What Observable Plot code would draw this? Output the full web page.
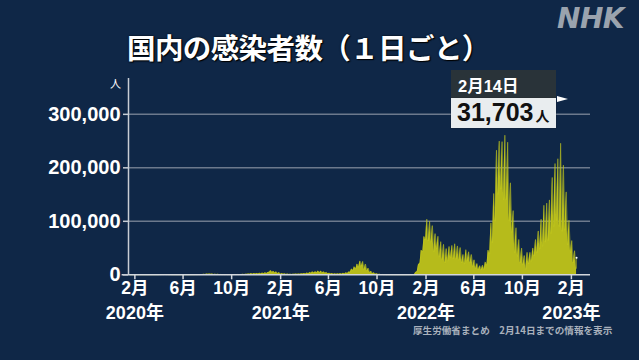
<!DOCTYPE html>
<html><head><meta charset="utf-8">
<script src="https://cdn.jsdelivr.net/npm/d3@7"></script>
<script src="https://cdn.jsdelivr.net/npm/@observablehq/plot@0.6"></script>
<style>
html,body{margin:0;padding:0;background:#0f2747;}
#wrap{position:relative;width:639px;height:360px;overflow:hidden;background:#0f2747;font-family:"Noto Sans CJK JP",sans-serif;}
#wrap svg{position:absolute;left:0;top:0;}
.t{position:absolute;white-space:nowrap;}
</style></head>
<body><div id="wrap"></div>
<script>
// ---- data ----
const startMonday = "2020-01-20";           // first week (Monday)
// weekly high (around Thursday) values
const weekHigh = [
 2,5,5,10,20,25,30,50,50,100,250,500,600,450,250,120,80,40,40,50,50,50,100,250,400,600,900,1300,1600,1300,1100,900,700,600,600,500,600,600,700,700,800,1100,1700,2400,2600,2600,3000,3200,3800,4500,
 7900,6600,5600,4100,2600,1900,1500,1200,1200,1300,1500,2000,2600,3400,4500,5500,5900,7200,7000,5700,4500,3000,2300,1800,1800,2200,2800,3600,5400,10700,15000,20000,25900,25000,20000,12400,6800,4000,2100,1100,700,400,300,250,200,180,150,150,150,200,300,500,
 4500,18800,46000,71600,104000,100000,92000,77000,72000,62000,57000,49000,53000,55000,58000,54000,51000,38000,47000,43000,38000,28000,21000,17000,18000,24000,46000,97000,152000,233000,250000,249000,261000,248000,172000,120000,88000,66000,50000,36000,42000,42000,50000,66000,82000,104000,130000,134000,140000,182000,208000,217000,
 246000,205000,155000,102000,64000,45000
];
// weekly low (Monday) values
const weekLow = [
 0,2,2,5,10,15,20,30,35,40,90,250,350,300,150,80,40,20,20,30,30,30,50,120,200,300,500,600,900,800,600,450,350,300,300,300,300,300,350,350,400,500,800,1200,1200,1400,1500,1700,1900,2400,
 4900,4200,3300,2000,1200,1000,700,700,700,800,800,1100,1300,1600,2100,2800,3300,4000,3700,3400,2700,1800,1300,900,900,1000,1200,1500,2300,4700,8000,11000,14000,16000,10000,7000,3700,2000,1100,600,350,230,150,100,100,80,70,70,70,100,150,200,
 400,6400,22000,43000,65000,63000,61000,43000,48000,33000,28000,22000,25000,31000,30000,29000,27000,22000,20000,26000,22000,15000,11000,9000,9000,10000,18000,40000,60000,100000,150000,160000,140000,140000,100000,79000,41000,34000,22000,19000,10000,20000,25000,35000,41000,48000,53000,61000,64000,77000,90000,101000,
 90000,81000,83000,56000,41000,22000
];
const lastMonday = {date: "2023-02-13", value: 11500};
const lastPoint = {date: "2023-02-14", value: 31703};

const yTicks = [0, 100000, 200000, 300000];
const yLabels = ["0", "100,000", "200,000", "300,000"];
const monthTicks = ["2020-02-01","2020-06-01","2020-10-01","2021-02-01","2021-06-01","2021-10-01","2022-02-01","2022-06-01","2022-10-01","2023-02-01"];
const monthLabels = ["2月","6月","10月","2月","6月","10月","2月","6月","10月","2月"];
const yearTicks = ["2020-02-01","2021-02-01","2022-02-01","2023-02-01"];
const yearLabels = ["2020年","2021年","2022年","2023年"];

const title = "国内の感染者数（１日ごと）";
const note = "厚生労働省まとめ　2月14日までの情報を表示";
const annoDate = "2月14日";
const annoValue = "31,703";

// ---- build table ----
const day = 86400000;
const t0 = new Date(startMonday + "T00:00:00Z").getTime();
const series = [];
for (let w = 0; w < weekHigh.length; w++) {
  series.push({date: new Date(t0 + w*7*day), value: weekLow[w]});
  series.push({date: new Date(t0 + (w*7+3)*day), value: weekHigh[w]});
}
series.push({date: new Date(lastMonday.date+"T00:00:00Z"), value: lastMonday.value});
series.push({date: new Date(lastPoint.date+"T00:00:00Z"), value: lastPoint.value});
const D = s => new Date(s + "T00:00:00Z");
const mLab = new Map(monthTicks.map((d,i)=>[D(d).getTime(), monthLabels[i]]));
const yrLab = new Map(yearTicks.map((d,i)=>[D(d).getTime(), yearLabels[i]]));
const yLab = new Map(yTicks.map((v,i)=>[v, yLabels[i]]));

const numFont = '"Liberation Sans","Noto Sans CJK JP",sans-serif';

const chart = Plot.plot({
  width: 639, height: 360,
  marginLeft: 128, marginRight: 49, marginTop: 78, marginBottom: 85.7,
  style: {background: "transparent", color: "white", fontFamily: numFont},
  x: {type: "utc", domain: [D("2020-01-16"), D("2023-03-21")], label: null},
  y: {domain: [0, 367000], label: null},
  marks: [
    Plot.gridY(yTicks.filter(v => v > 0), {stroke: "#8c96a4", strokeOpacity: 0.75, strokeWidth: 1.5}),
    Plot.areaY(series, {x: "date", y: "value", fill: "#b6bb1b", curve: "linear"}),
    Plot.lineY(series, {x: "date", y: "value", stroke: "#c3c81f", strokeWidth: 0.5, curve: "linear"}),
    Plot.dot([lastPoint], {x: d => D(d.date), y: "value", r: 1, fill: "white"}),
    Plot.ruleY([0], {x1: D("2019-12-31"), x2: D("2023-03-21"), stroke: "#d3d7dd", strokeWidth: 1.5}),
    Plot.ruleX([D("2020-01-16")], {y1: 0, y2: 367000, stroke: "#c8cdd4", strokeWidth: 1.5}),
    Plot.axisY(yTicks, {label: null, tickSize: 5, tickPadding: 3, tickFormat: v => yLab.get(v), fontSize: 20, fontWeight: "bold", fill: "white", stroke: "#c8cdd4", strokeWidth: 1.5, letterSpacing: 0.3}),
    Plot.axisX(monthTicks.map(D), {label: null, tickSize: 5, tickPadding: 2, tickFormat: d => mLab.get(d.getTime()), fontSize: 17.5, fontWeight: "bold", fill: "white", stroke: "#d3d7dd", strokeWidth: 1.5}),
    Plot.axisX(yearTicks.map(D), {label: null, tickSize: 0, tickPadding: 31, tickFormat: d => yrLab.get(d.getTime()), fontSize: 18, fontWeight: "bold", fill: "white"})
  ]
});
const wrap = document.getElementById("wrap");
wrap.appendChild(chart);

function add(html, css) {
  const el = document.createElement("div");
  el.className = "t"; el.innerHTML = html; el.style.cssText += css; wrap.appendChild(el);
  return el;
}
add(title, "left:127px;top:26px;font-size:28.5px;font-weight:bold;color:white;text-shadow:0 0 2px #000,1px 1px 1px #000;letter-spacing:-0.6px;");
add("NHK", 'left:557px;top:2px;font-family:"DejaVu Sans";font-size:28px;font-weight:bold;font-style:italic;color:#9aa3ae;letter-spacing:-0.5px;');
add("人", "left:110px;top:75px;font-size:11px;color:white;");
add(note, "left:413px;top:323px;font-size:9.6px;font-weight:bold;color:#a9b1bc;");
// annotation box
add("", "left:451px;top:70px;width:105px;height:28px;background:#293339;");
add("", "left:451px;top:98px;width:105px;height:30px;background:#e9edef;box-shadow:0 0 1px #222;");
add(annoDate, 'left:458px;top:73px;font-size:16.5px;font-weight:bold;color:white;font-family:' + numFont + ';');
add(annoValue + '<span style="font-size:14px;margin-left:2px">人</span>', 'left:457px;top:98px;font-size:25px;font-weight:bold;color:#111;font-family:' + numFont + ';');
add("", "left:557px;top:96px;width:0;height:0;border-top:3.7px solid transparent;border-bottom:3.7px solid transparent;border-left:11px solid white;");
</script></body></html>
